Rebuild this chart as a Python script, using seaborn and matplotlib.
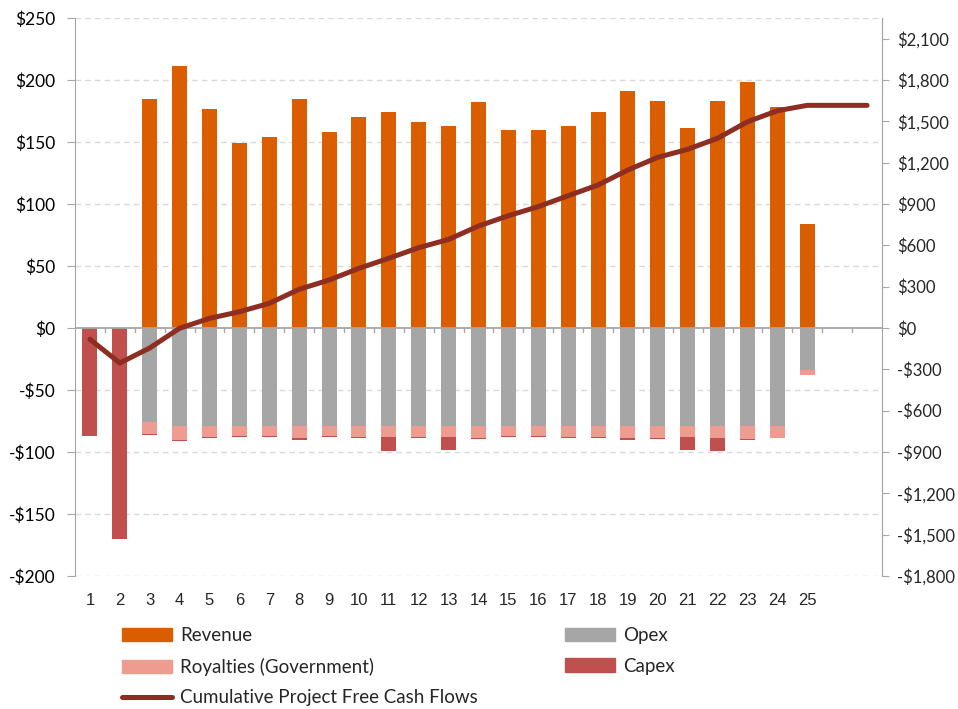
import numpy as np
import pandas as pd
import matplotlib.pyplot as plt
import seaborn as sns
from matplotlib.patches import Patch
from matplotlib.lines import Line2D
from matplotlib.ticker import FuncFormatter, MultipleLocator, FixedLocator

# Years 1..25 plus two empty slots where the cumulative line continues
years = [str(i) for i in range(1, 28)]
tick_labels = [str(i) for i in range(1, 26)] + ["", ""]

revenue = [0, 0, 185, 211, 177, 149, 154, 185, 158, 170, 174, 166, 163, 182,
           160, 160, 163, 174, 191, 183, 161, 183, 198, 178, 84, 0, 0]
opex = [0, 0, -76, -79, -79, -79, -79, -79, -79, -79, -79, -79, -79, -79,
        -79, -79, -79, -79, -79, -79, -79, -79, -79, -79, -34, 0, 0]
royalties = [0, 0, -9.5, -11, -9, -8, -8, -9.5, -8, -8.5, -9, -8.5, -8.5, -9.5,
             -8, -8, -8.5, -9, -10, -9.5, -8.5, -9.5, -10.5, -9.5, -3.5, 0, 0]
capex = [-87, -170, -1, -1.5, -1, -1.3, -1.3, -1.6, -1.3, -1.6, -11, -1.6, -11, -1,
         -1.3, -1.3, -1, -1, -1, -1, -11, -11, -1, -0.5, 0, 0, 0]
cumulative_fcf = [-82, -254, -145, -2, 70, 118, 179, 281, 348, 433, 506, 583, 643, 740,
                  815, 881, 960, 1038, 1147, 1239, 1297, 1377, 1497, 1577, 1616, 1616, 1616]

c_rev = "#DA5D00"
c_opex = "#A6A6A6"
c_roy = "#EE9C90"
c_capex = "#C0504D"
c_line = "#8E2D22"

df = pd.DataFrame({"year": years, "revenue": revenue, "opex": opex,
                   "royalties": royalties, "capex": capex})
df["opex_roy"] = df["opex"] + df["royalties"]
df["all_costs"] = df["opex_roy"] + df["capex"]

sns.set_style("white")
plt.rcParams["font.family"] = ["Lato", "DejaVu Sans"]
plt.rcParams["font.size"] = 12.5


def dollars(v, p):
    return f"${v:,.0f}" if v >= 0 else f"-${-v:,.0f}"


fig = plt.figure(figsize=(9.58, 7.09), dpi=100)
ax = fig.add_axes([75 / 958, 1 - 576 / 709, (882 - 75) / 958, (576 - 18) / 709])

bw = 0.5
# negative stack drawn from the outermost layer inwards
sns.barplot(data=df, x="year", y="all_costs", color=c_capex, width=bw, saturation=1,
            linewidth=0, ax=ax, order=years)
sns.barplot(data=df, x="year", y="opex_roy", color=c_roy, width=bw, saturation=1,
            linewidth=0, ax=ax, order=years)
sns.barplot(data=df, x="year", y="opex", color=c_opex, width=bw, saturation=1,
            linewidth=0, ax=ax, order=years)
sns.barplot(data=df, x="year", y="revenue", color=c_rev, width=bw, saturation=1,
            linewidth=0, ax=ax, order=years)

ax.set_xlim(-0.5, 26.5)
ax.set_ylim(-200, 250)
ax.yaxis.set_major_locator(MultipleLocator(50))
ax.yaxis.set_major_formatter(FuncFormatter(dollars))
for v in range(-200, 251, 50):
    if v != 0:
        ax.axhline(v, color="#D9D9D9", lw=1, ls=(0, (4, 3)), zorder=0)
ax.axhline(0, color="#A6A6A6", lw=1.3, zorder=3)

ax.set_xlabel("")
ax.set_ylabel("")
ax.set_xticks(range(27))
ax.set_xticklabels(tick_labels, fontfamily="Liberation Sans", fontsize=12)
ax.tick_params(axis="x", length=0, pad=12)
ax.tick_params(axis="y", left=True, length=6, color="#A6A6A6", labelcolor="black", pad=8)
# small category separators on the zero line
for b in np.arange(0.5, 26.5, 1):
    ax.plot([b, b], [0, -3], color="#A6A6A6", lw=1, zorder=3)

for s in ["top", "bottom"]:
    ax.spines[s].set_visible(False)
ax.spines["left"].set_color("#A6A6A6")
ax.spines["right"].set_color("#A6A6A6")

ax2 = ax.twinx()
sns.lineplot(x=np.arange(27), y=cumulative_fcf, color=c_line, lw=3.6,
             solid_capstyle="round", ax=ax2)
ax2.set_ylim(-1800, 2250)
ax2.yaxis.set_major_locator(FixedLocator(range(-1800, 2101, 300)))
ax2.yaxis.set_major_formatter(FuncFormatter(dollars))
ax2.tick_params(axis="y", right=True, length=5, color="#A6A6A6", pad=6, labelsize=12)
for s in ["top", "bottom", "left"]:
    ax2.spines[s].set_visible(False)
ax2.spines["right"].set_color("#A6A6A6")
ax.set_xlim(-0.5, 26.5)

handles = [
    Patch(color=c_rev, label="Revenue"),
    Patch(color=c_roy, label="Royalties (Government)"),
    Line2D([0], [0], color=c_line, lw=3.6, solid_capstyle="round",
           label="Cumulative Project Free Cash Flows"),
    Patch(color=c_opex, label="Opex"),
    Patch(color=c_capex, label="Capex"),
]
fig.legend(handles=handles, ncol=2, loc="upper left", bbox_to_anchor=(105 / 958, 1 - 610 / 709),
           frameon=False, handlelength=2.67, handleheight=0.7, handletextpad=0.43,
           columnspacing=4.63, labelspacing=0.73, fontsize=13.5)

fig.savefig("out.png", dpi=100)
